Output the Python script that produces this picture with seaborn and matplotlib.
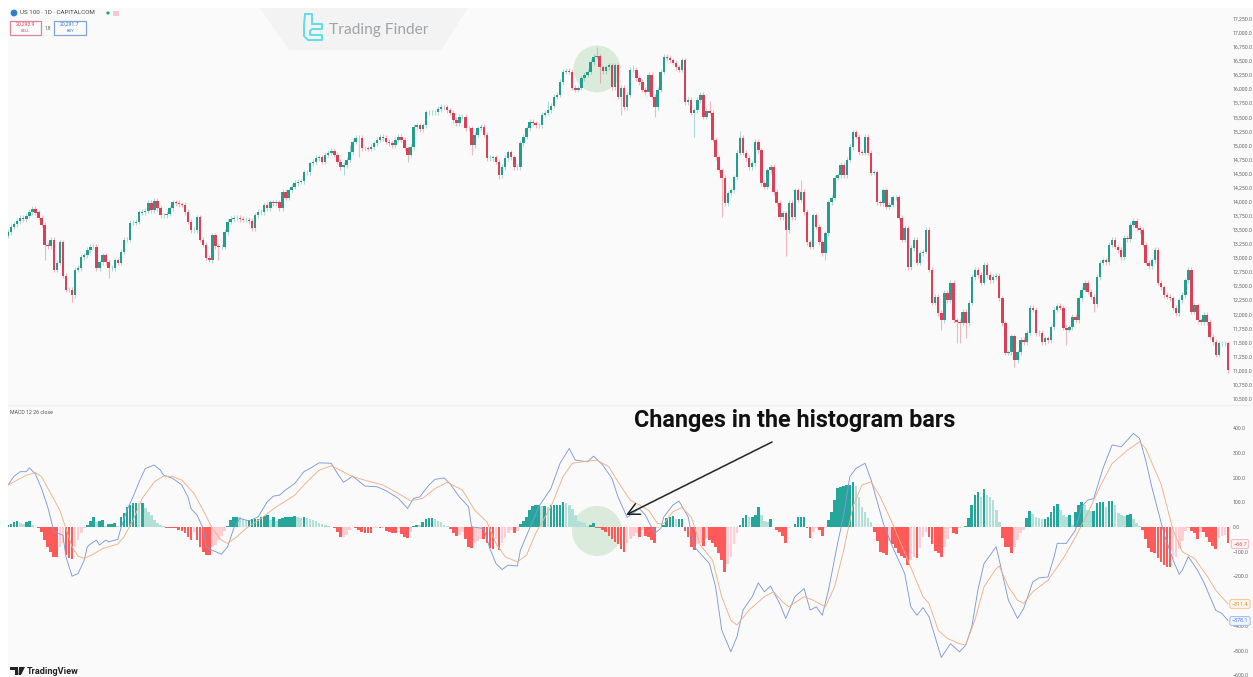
import numpy as np
import pandas as pd
import matplotlib
matplotlib.use("Agg")
import matplotlib.pyplot as plt
from matplotlib.patches import Circle, Polygon, Rectangle
import seaborn as sns

# daily closes, US 100
closes = [
    13460, 13550, 13600, 13655, 13710, 13690, 13745, 13815, 13870, 13800,
    13710, 13585, 13230, 13210, 13320, 12785, 12910, 13280, 12680, 12430,
    12430, 12340, 12785, 12820, 13015, 13050, 13140, 13195, 13195, 12820,
    12925, 13050, 12925, 12820, 12820, 12960, 12910, 13105, 13320, 13320,
    13620, 13620, 13640, 13800, 13815, 13835, 13975, 13850, 14010, 13885,
    13760, 13760, 13780, 13885, 13990, 13975, 13955, 13940, 13815, 13640,
    13495, 13495, 13725, 13320, 13230, 13000, 12960, 13405, 13210, 13195,
    13195, 13460, 13640, 13690, 13710, 13710, 13690, 13675, 13675, 13655,
    13530, 13760, 13815, 13815, 13940, 13885, 13990, 13975, 13990, 13885,
    14170, 14065, 14205, 14260, 14330, 14350, 14365, 14525, 14525, 14685,
    14705, 14775, 14790, 14705, 14830, 14865, 14900, 14830, 14705, 14615,
    14650, 14740, 14880, 15060, 15130, 15130, 14950, 14950, 14935, 14970,
    15040, 15095, 15150, 15130, 15060, 15040, 15005, 15095, 15150, 15095,
    14950, 14830, 14970, 15325, 15360, 15290, 15360, 15590, 15590, 15590,
    15590, 15645, 15680, 15680, 15625, 15575, 15450, 15395, 15505, 15505,
    15305, 15305, 15005, 15185, 15305, 15325, 15185, 14775, 14775, 14790,
    14705, 14470, 14615, 14775, 14880, 14790, 14615, 14615, 15040, 15150,
    15305, 15415, 15395, 15360, 15360, 15540, 15575, 15625, 15700, 15860,
    15895, 16125, 16305, 16320, 16305, 16020, 15985, 16020, 16195, 16250,
    16305, 16480, 16570, 16585, 16390, 16320, 16390, 16425, 16035, 16425,
    15860, 16020, 15680, 15895, 16340, 16340, 16195, 16125, 15985, 15945,
    16250, 15860, 15680, 15985, 16305, 16570, 16550, 16515, 16465, 16390,
    16340, 16515, 15770, 15805, 15575, 15625, 15805, 15895, 15505, 15610,
    15575, 15095, 14790, 14560, 14420, 13975, 14150, 14205, 14435, 14865,
    15130, 14865, 14775, 14615, 14685, 15060, 14915, 14330, 14260, 14560,
    14615, 14170, 13975, 13725, 13795, 13495, 13975, 13725, 14205, 14030,
    14170, 13815, 13280, 13195, 13760, 13550, 13280, 13085, 13440, 13990,
    14065, 14420, 14470, 14650, 14470, 14740, 14970, 15235, 15150, 14880,
    14865, 15150, 14865, 14510, 14525, 13990, 13975, 14205, 13905, 13940,
    14080, 14080, 13710, 13320, 13530, 12835, 13175, 13320, 12910, 13085,
    13105, 13495, 12785, 12200, 12305, 12020, 11895, 12375, 12250, 12555,
    11895, 11860, 11840, 12040, 11840, 12200, 12660, 12785, 12695, 12555,
    12875, 12695, 12605, 12660, 12680, 12285, 11840, 11310, 11325, 11610,
    11185, 11325, 11540, 11505, 11665, 12110, 12075, 11665, 11665, 11505,
    11575, 11540, 11770, 12075, 12145, 12110, 11755, 11720, 11770, 11950,
    11895, 12285, 12430, 12555, 12395, 12305, 12180, 12660, 12910, 12960,
    12925, 13230, 13320, 13195, 13140, 13015, 13355, 13335, 13585, 13655,
    13530, 13495, 13230, 12910, 12855, 12960, 13140, 12555, 12480, 12340,
    12305, 12285, 12110, 12020, 12250, 12340, 12605, 12785, 12040, 12160,
    11895, 11860, 11985, 11860, 11595, 11505, 11275, 11485, 11485, 11485,
    11005,
]

# the wicks that stick out, everything else gets the short one
upper_wick_bars = [193, 217, 240, 260, 230, 205, 112, 142, 177]
upper_wick_highs = [16750, 16610, 15250, 14385, 15790, 16420, 15010, 15730, 15790]
lower_wick_bars = [12, 15, 21, 33, 66, 69, 110, 115, 131, 152, 161, 194, 201, 212,
                   225, 234, 255, 268, 306, 311, 312, 314, 330, 347, 356]
lower_wick_lows = [12960, 12750, 12215, 12640, 12920, 12960, 14470, 14790, 14700,
                   14830, 14400, 16110, 15540, 15500, 15150, 13725, 13030, 12960,
                   11720, 11490, 11485, 11575, 11060, 11450, 12035]

hist = [
    8, 12, 22, 25, 18, 14, 22, 24, 10, 2,
    -5, -19, -53, -80, -100, -120, -120, -80, -66, -113, -127, -131, -80, -53, -26, -5,
    8, 26, 42, 22, 26, 28, 4, 12, 12, 15, 4, 42, 55, 82, 89, 96, 98, 96, 99, 76, 62, 49, 28, 15, 8, 4,
    -3, -3, -3, -5, -10, -16, -24, -42, -54, -20, -54, -80, -100, -113, -113, -80, -73, -54, -36, -15,
    4, 28, 39, 42, 39, 31, 28, 28, 31, 31, 31, 42, 45, 49, 28, 42, 26, 31, 35, 39, 39, 39, 45, 42, 35, 39, 35, 31, 28, 26,
    15, 12, 8, 5, 2, -5, -19, -42, -40, -32, -12, 1, -5, -12, -19, -23, -23, -23, -5, -3, -5, -3, -15, -22, -24, -24, -3, -30, -40, -46, -20,
    4, 10, 8, 20, 31, 38, 38, 31, 26, 19, 8, 3,
    -9, -26, -36,
    -32, -22, -50, -80, -86, -66, -56, -50, -50, -66, -86, -90, -50, -93, -66, -46, -26, -12, -25, -15,
    12, 26, 42, 68, 85, 88, 88, 85, 85, 82, 88, 88, 89, 89, 103, 96, 89, 72, 50, 26, 22, 15, 4, 8, 18,
    -3, -5, -12, -22, -36, -50, -60, -70, -90, -103, -65, -50, -35, -25,
    -40, -12, -35, -40, -52, -66, -2, 1,
    8, 38, 42, 46, 31, 31, 31,
    -15, -39, -80, -93, -70, -66, -78, -46, -52, -66, -80, -105, -135, -180, -150, -120, -70, -25,
    8, 35, 48, 42, 42, 50, 80, 49, 26, 22, 31, 2,
    -12, -20, -36, -66, -3,
    2, 12, 39, 42, 42,
    -3, -46, -20, -5, -12, -38, -2,
    28, 60, 110, 160, 163, 167, 170, 170, 184, 165, 123, 82, 62, 35, 20,
    -22, -55, -100, -105, -113, -55, -70, -86, -105, -118, -125, -153, -135, -122, -125, -85, -40, -20, -42, -70, -96, -107, -120, -80, -50, -3, -25, -30, -3,
    2, 3, 35, 90, 130, 143, 120, 152, 130, 123, 110, 69, 22,
    -46, -80, -82, -104, -80, -53, -26, -10,
    35, 65, 53, 42, 35, 31, 31, 42, 62, 85, 93, 70, 49, 42, 49, 10, 62, 89, 103, 89, 70, 65, 66, 96, 103, 103, 80, 105, 105, 89, 55, 49, 45, 49, 53, 31, 15, 3,
    -12, -50, -86, -100, -105, -125, -140, -153, -160, -160, -130, -120, -90, -55, -15, -3,
    -15, -25, -50, -20, -20, -40, -62, -78, -90, -46, -35, -32, -65,
]

macd_bars = [0, 2, 4, 6, 7, 9, 11, 13, 14, 15, 18, 19, 21, 23, 25, 26, 27, 29, 30, 32, 33, 36, 37, 39, 41, 43, 45, 48, 50, 51,
             54, 57, 59, 60, 62, 64, 65, 67, 70, 72, 74, 76, 79, 82, 85, 87, 89, 91, 94, 97, 99, 102, 106, 108, 110, 113, 117,
             121, 124, 128, 131, 133, 135, 138, 140, 143, 145, 148, 151, 152, 156, 158, 160, 162, 164, 167, 168, 171, 174, 178,
             181, 184, 186, 190, 192, 195, 198, 200, 203, 207, 209, 212, 214, 215, 218, 220, 223, 225, 227, 230, 232, 234, 237,
             239, 241, 244, 246, 248, 250, 253, 255, 258, 261, 263, 265, 267, 269, 272, 274, 276, 278, 281, 283, 287, 290, 294,
             296, 298, 300, 302, 306, 309, 312, 314, 316, 318, 320, 324, 326, 328, 331, 333, 336, 338, 341, 343, 344, 347, 350,
             352, 354, 356, 359, 362, 365, 367, 369, 371, 373, 375, 379, 382, 384, 385, 387, 390, 392, 396, 398, 400]
macd_line = [170, 206, 224, 224, 240, 214, 156, 82, 35, -19, -33, -120, -199, -188, -134, -80, -69, -53, -73, -53, -60, -50, -6, 68, 122, 183, 237, 251, 230, 210,
             197, 170, 122, 75, 48, -6, -80, -94, -110, -80, -6, 35, 25, 41, 102, 125, 129, 150, 176, 224, 237, 260, 258, 217, 181, 206, 166,
             163, 147, 116, 75, 116, 122, 170, 193, 199, 174, 122, 82, 1, -6, -87, -148, -172, -154, -158, -94, -6, 82, 156,
             258, 318, 271, 264, 287, 251, 197, 122, 39, 75, 48, -26, -6, 41, 89, 105, 41, -80, -107, -148, -242, -417, -505,
             -444, -336, -282, -226, -262, -239, -309, -370, -282, -249, -336, -323, -357, -256, -66, 48, 204, 237, 258, 190, 14, -80, -188,
             -323, -357, -326, -364, -528, -472, -505, -478, -404, -255, -148, -80, -188, -296, -370, -330, -222, -206, -202, -120, -66, -66, -12,
             82, 109, 116, 237, 332, 325, 352, 379, 359, 271, 163, -26, -134, -191, -175, -120, -175, -222, -337, -350, -378]

signal_bars = [0, 3, 6, 9, 11, 14, 17, 19, 21, 23, 25, 28, 31, 36, 38, 41, 44, 48, 51, 54, 57, 61, 64, 67, 70, 72, 75, 78, 83, 88, 94, 98,
               102, 106, 109, 112, 116, 123, 128, 132, 136, 140, 144, 149, 153, 157, 160, 163, 167, 170, 173, 178, 182, 185, 190, 193, 197, 200, 204,
               207, 210, 213, 215, 218, 221, 224, 227, 231, 234, 237, 239, 243, 248, 251, 254, 256, 261, 264, 268, 271, 274, 277, 280, 283, 286, 290, 295, 300,
               302, 305, 308, 312, 314, 317, 320, 324, 325, 328, 331, 333, 336, 341, 346, 350, 354, 358, 362, 367, 371, 373, 378, 382, 385, 389, 393, 396, 400]
signal_line = [170, 190, 210, 220, 204, 136, 68, -6, -80, -118, -127, -110, -87, -69, -40, 28, 116, 183, 206, 204, 190, 136, 68, -6, -53, -66, -40, -6, 35, 82, 129, 183,
               230, 248, 230, 210, 193, 170, 136, 106, 116, 156, 181, 150, 68, 21, -66, -120, -141, -114, -26, 82, 204, 258, 267, 271, 244, 183, 109,
               89, 68, 14, 14, 62, 79, 41, -73, -134, -282, -377, -397, -336, -282, -262, -303, -323, -282, -296, -323, -242, -94, 82, 170, 183, 122, 14, -134, -282,
               -310, -418, -451, -472, -478, -377, -242, -168, -158, -242, -296, -309, -262, -215, -127, -40, 55, 163, 257, 311, 345, 318, 176, -12, -100, -127, -195, -256, -311]

price_ticks = list(range(10500, 17251, 250))
macd_ticks = list(range(-600, 401, 100))

W, H = 1253, 677
UP, DOWN = "#239e8d", "#dc3f58"
tones = {"up_strong": "#26a69a", "up_weak": "#b2dfd6", "down_strong": "#ff5a5a", "down_weak": "#ffcdd2"}

sns.set_theme(style="white")
plt.rcParams["font.family"] = ["Roboto", "DejaVu Sans"]

fig = plt.figure(figsize=(W / 100, H / 100), dpi=100, facecolor="white")


def pane(left, top, right, bottom, z):
    ax = fig.add_axes([left / W, 1 - bottom / H, (right - left) / W, (bottom - top) / H], zorder=z)
    ax.patch.set_visible(False)
    return ax


# background and everything placed by pixel sits on these two
under = pane(0, 0, W, H, 0)
over = pane(0, 0, W, H, 3)
for a in (under, over):
    a.set_xlim(0, W)
    a.set_ylim(H, 0)
    a.axis("off")

under.add_patch(Rectangle((8, 8), W - 8, H - 8, color="#fafafa", lw=0))
under.add_patch(Polygon([(260, 8), (468, 8), (441, 50), (289, 50)], color="#f3f3f3", lw=0))
under.add_patch(Circle((597, 69), 23.5, color="#dbebdb", lw=0))
under.add_patch(Circle((597, 531), 25, color="#dbebdb", lw=0))
under.plot([8, W], [404.5, 404.5], color="#efefef", lw=1)

ax_price = pane(8, 8, W, 404, 1)
ax_macd = pane(8, 405, W, H, 1)
bar_span = (W - 8) / 3.05

# candles
c = np.array(closes, dtype=float)
o = np.r_[c[0] - 60, c[:-1]]
bars = np.arange(len(c))
highs = np.maximum(o, c) + 45
lows = np.minimum(o, c) - 45
highs[upper_wick_bars] = upper_wick_highs
lows[lower_wick_bars] = lower_wick_lows
colors = np.where(c >= o, UP, DOWN)
ax_price.vlines(bars, lows, highs, colors=colors, lw=0.8, alpha=0.35, zorder=2)
ax_price.bar(bars, np.abs(c - o) + 12, bottom=np.minimum(o, c) - 6, width=0.8, color=colors, lw=0, zorder=3)
ax_price.set_xlim(0, bar_span)
ax_price.set_ylim(10403, 17440)
ax_price.set_yticks(price_ticks, [f"{t:,.1f}" for t in price_ticks])

# macd histogram
h = np.array(hist, dtype=float)
prev = np.r_[0, h[:-1]]
tone = np.where(h >= 0, np.where(h >= prev, "up_strong", "up_weak"),
                np.where(h <= prev, "down_strong", "down_weak"))
hist_df = pd.DataFrame({"bar": np.arange(len(h)), "hist": h, "tone": tone})
sns.barplot(data=hist_df, x="bar", y="hist", hue="tone", palette=tones, dodge=False, native_scale=True,
            orient="x", width=0.86, errorbar=None, legend=False, linewidth=0, saturation=1, ax=ax_macd, zorder=2)
sns.lineplot(x=macd_bars, y=macd_line, color="#7f9ad8", lw=0.65, estimator=None, ax=ax_macd, zorder=4)
sns.lineplot(x=signal_bars, y=signal_line, color="#efb088", lw=0.65, estimator=None, ax=ax_macd, zorder=4)
ax_macd.set_xlim(0, bar_span)
ax_macd.set_ylim(-607, 494)
ax_macd.set_yticks(macd_ticks, [f"{t:.1f}".replace("-", "\u2212") for t in macd_ticks])

for ax in (ax_price, ax_macd):
    ax.set(xlabel="", ylabel="")
    ax.set_xticks([])
    ax.yaxis.tick_right()
    ax.tick_params(axis="y", length=0, pad=-14.6, labelsize=3.8, labelcolor="#666666")
    sns.despine(ax=ax, left=True, bottom=True, right=True, top=True)

# last value tags on the macd scale
tag_values = ["\u221266.7", "\u2212311.4", "\u2212378.1"]
tag_ys = [544, 604, 621]
tag_edges = ["#f3b6bd", "#f5c48f", "#9dbcf0"]
tag_fills = ["#fff3f4", "#fff5ea", "#eef4ff"]
tag_texts = ["#d9575f", "#d98a3a", "#4f7fd6"]
for v, y, e, f, t in zip(tag_values, tag_ys, tag_edges, tag_fills, tag_texts):
    over.text(1240, y, v, fontsize=3.9, color=t, ha="center", va="center",
              bbox=dict(boxstyle="round,pad=0.35", fc=f, ec=e, lw=0.7))

# header
over.add_patch(Circle((14, 13), 3.4, color="#2f80c8", lw=0))
over.text(20, 13, "US 100 \u00b7 1D \u00b7 CAPITALCOM", fontsize=4.5, color="#444444", va="center")
over.add_patch(Circle((108, 13), 1.6, color="#1f9c8b", lw=0))
over.add_patch(Rectangle((113, 10.5), 6, 5, color="#f6c9d0", lw=0))
over.text(25.5, 24.5, "20,293.9", fontsize=3.7, color="#d9475f", ha="center", va="center")
over.text(25.5, 31, "SELL", fontsize=3, color="#d9475f", ha="center", va="center")
over.text(47.5, 28, "1.8", fontsize=3.4, color="#555555", ha="center", va="center")
over.text(70, 24.5, "20,291.7", fontsize=3.7, color="#3f73c8", ha="center", va="center")
over.text(70, 31, "BUY", fontsize=3, color="#3f73c8", ha="center", va="center")
over.add_patch(Rectangle((10, 21), 31, 14, fc="none", ec="#d98795", lw=0.9))
over.add_patch(Rectangle((54, 21), 32, 14, fc="none", ec="#7fa5dc", lw=0.9))
over.text(10, 412, "MACD 12 26 close", fontsize=3.8, color="#555555", va="center")

# logo marks
cyan = "#5cdfe8"
over.plot([305, 312, 312, 322, 322, 312, 310, 310, 322, 322, 308, 304, 304, 305], [14, 14, 24, 24, 29, 29, 31, 35, 35, 40, 40, 36, 25, 14],
          color=cyan, lw=1.4, solid_joinstyle="round")
over.text(329, 30, "Trading Finder", fontsize=11.2, color="#a0a4a6", va="center", family="Lato")
over.add_patch(Polygon([(10, 667), (18, 667), (18, 675), (14.5, 675), (14.5, 670), (10, 670)], color="#222222", lw=0))
over.add_patch(Polygon([(19, 667), (25, 667), (21, 675), (18.5, 675)], color="#222222", lw=0))
over.text(27, 671.5, "TradingView", fontsize=6.6, fontweight="bold", color="#222222", va="center")

# callout
over.text(795, 421, "Changes in the histogram bars", fontsize=16.8, fontweight="bold", color="#111111",
          ha="center", va="center")
over.annotate("", xy=(626, 515), xytext=(772, 442), arrowprops=dict(arrowstyle="->,head_length=0.7,head_width=0.35", color="#222222", lw=1.1, shrinkA=0, shrinkB=0))

fig.savefig("out.png", dpi=100)
